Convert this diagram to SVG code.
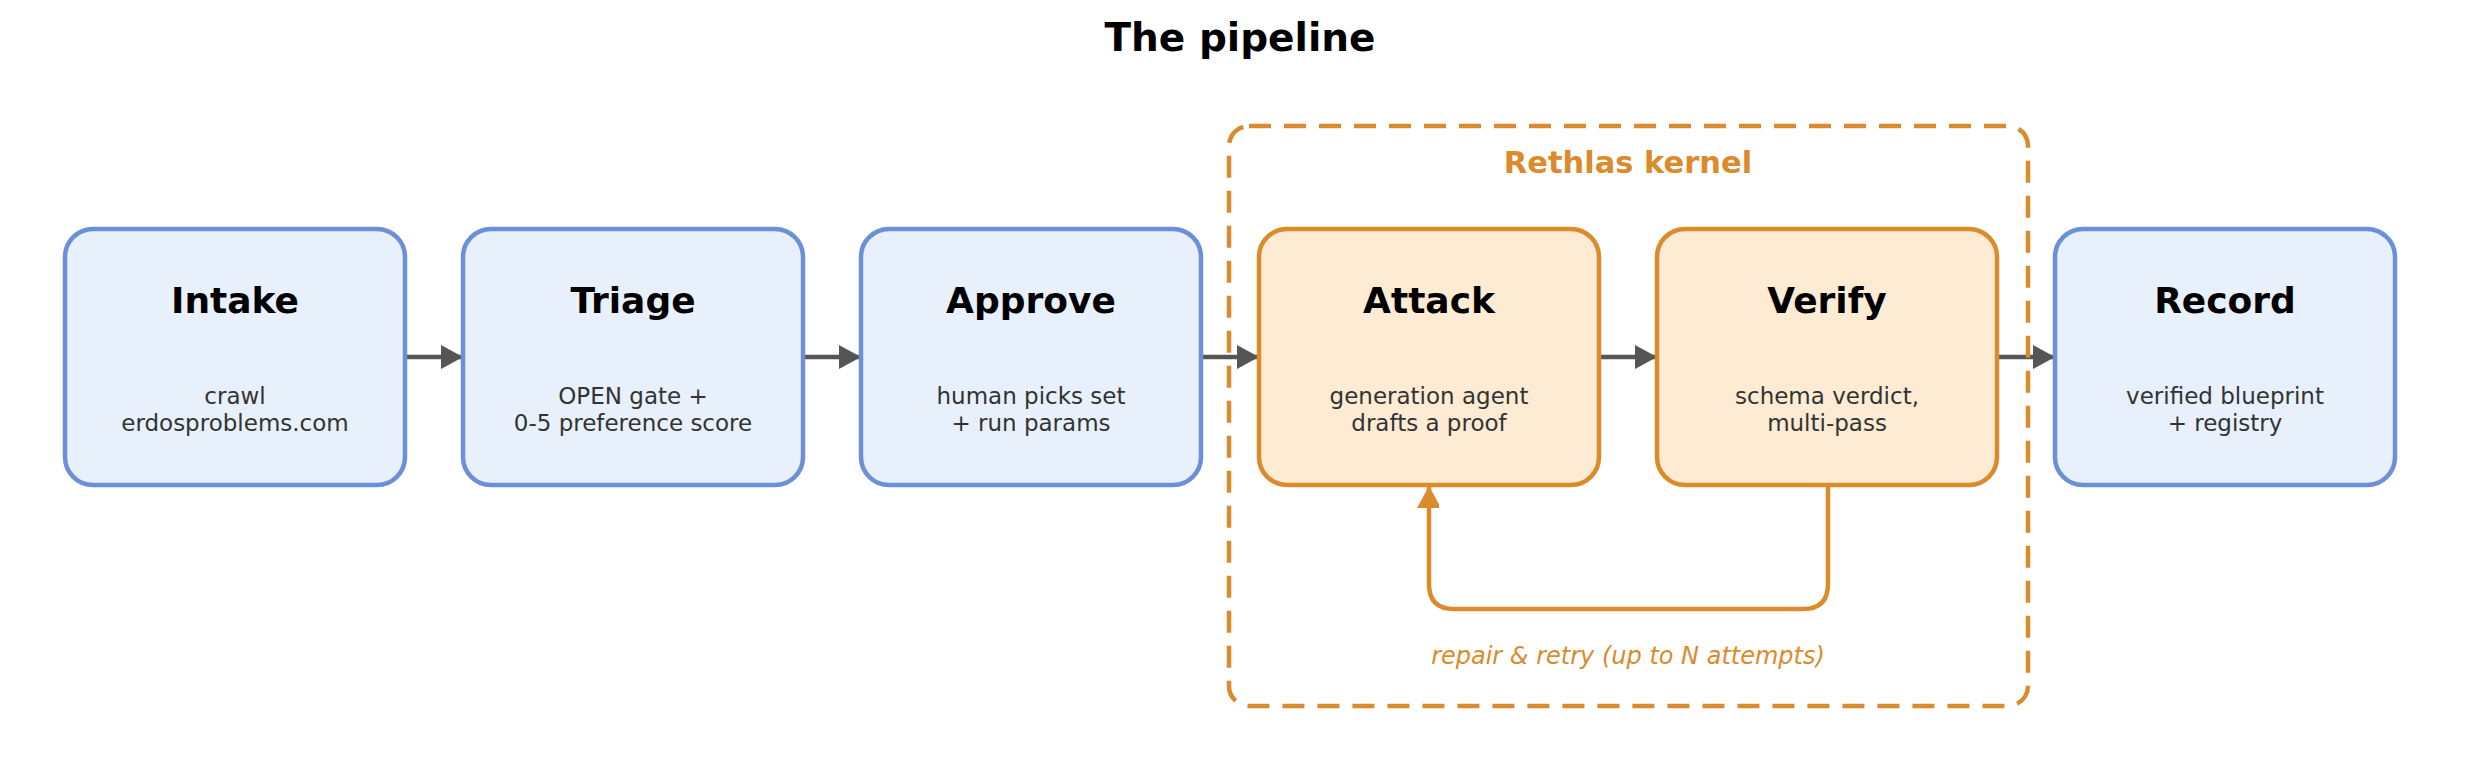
<svg xmlns="http://www.w3.org/2000/svg" width="2479" height="780" viewBox="0 0 2479 780">
<style>
text{font-family:"DejaVu Sans",sans-serif;text-anchor:middle}
.title{font-size:39px;font-weight:bold;fill:#000}
.nt{font-size:36px;font-weight:bold;fill:#000}
.ns{font-size:23px;fill:#333}
.blue{fill:#E8F0FC;stroke:#6C90D8;stroke-width:4.5}
.orange{fill:#FDEBD3;stroke:#DB8A2C;stroke-width:4.5}
.arr{stroke:#555;stroke-width:4.5;fill:none}
</style>
<defs>
<marker id="ah" markerWidth="22" markerHeight="24" refX="22" refY="12" orient="auto" markerUnits="userSpaceOnUse"><path d="M0,0 L22,12 L0,24 Z" fill="#555"/></marker>
<marker id="oh" markerWidth="24" markerHeight="22" refX="22" refY="12" orient="auto" markerUnits="userSpaceOnUse"><path d="M0,0 L22,12 L0,24 Z" fill="#DB8A2C"/></marker>
</defs>
<rect width="2479" height="780" fill="#fff"/>
<text class="title" x="1240" y="51">The pipeline</text>
<g id="connectors">
<line class="arr" x1="405" y1="357" x2="463" y2="357" marker-end="url(#ah)"/>
<line class="arr" x1="803" y1="357" x2="861" y2="357" marker-end="url(#ah)"/>
<line class="arr" x1="1201" y1="357" x2="1259" y2="357" marker-end="url(#ah)"/>
<line class="arr" x1="1599" y1="357" x2="1657" y2="357" marker-end="url(#ah)"/>
<line class="arr" x1="1997" y1="357" x2="2055" y2="357" marker-end="url(#ah)"/>
<path d="M1828,480 L1828,584 Q1828,609 1803,609 L1454,609 Q1429,609 1429,584 L1429,486" fill="none" stroke="#DB8A2C" stroke-width="4.5" marker-end="url(#oh)"/>
</g>
<g id="kernel">
<rect x="1229" y="126" width="799" height="580" rx="20" fill="none" stroke="#DB8A2C" stroke-width="4.5" stroke-dasharray="22,13"/>
<text x="1628" y="173" font-size="30.5" font-weight="bold" fill="#DB8A2C">Rethlas kernel</text>
<text x="1628" y="664" font-size="24" font-style="italic" fill="#DB8A2C">repair &amp; retry (up to N attempts)</text>
</g>
<g id="intake">
<rect class="blue" x="65" y="229" width="340" height="256" rx="28"/>
<text class="nt" x="235" y="313">Intake</text>
<text class="ns" x="235" y="404">crawl</text>
<text class="ns" x="235" y="431">erdosproblems.com</text>
</g>
<g id="triage">
<rect class="blue" x="463" y="229" width="340" height="256" rx="28"/>
<text class="nt" x="633" y="313">Triage</text>
<text class="ns" x="633" y="404">OPEN gate +</text>
<text class="ns" x="633" y="431">0-5 preference score</text>
</g>
<g id="approve">
<rect class="blue" x="861" y="229" width="340" height="256" rx="28"/>
<text class="nt" x="1031" y="313">Approve</text>
<text class="ns" x="1031" y="404">human picks set</text>
<text class="ns" x="1031" y="431">+ run params</text>
</g>
<g id="attack">
<rect class="orange" x="1259" y="229" width="340" height="256" rx="28"/>
<text class="nt" x="1429" y="313">Attack</text>
<text class="ns" x="1429" y="404">generation agent</text>
<text class="ns" x="1429" y="431">drafts a proof</text>
</g>
<g id="verify">
<rect class="orange" x="1657" y="229" width="340" height="256" rx="28"/>
<text class="nt" x="1827" y="313">Verify</text>
<text class="ns" x="1827" y="404">schema verdict,</text>
<text class="ns" x="1827" y="431">multi-pass</text>
</g>
<g id="record">
<rect class="blue" x="2055" y="229" width="340" height="256" rx="28"/>
<text class="nt" x="2225" y="313">Record</text>
<text class="ns" x="2225" y="404">verified blueprint</text>
<text class="ns" x="2225" y="431">+ registry</text>
</g>
</svg>
